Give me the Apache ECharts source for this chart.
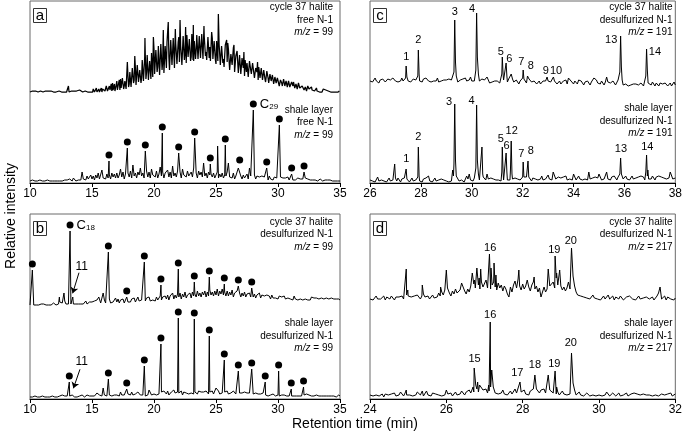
<!DOCTYPE html>
<html><head><meta charset="utf-8">
<script src="https://cdn.jsdelivr.net/npm/echarts@6/dist/echarts.min.js"></script>
<style>html,body{margin:0;padding:0;background:#fff}#c{width:685px;height:433px}</style>
</head><body><div id="c"></div>
<script>
// ---------- DATA (intensities in arbitrary units above each trace's baseline) ----------
// Panel a top: cycle 37 halite, free N-1, m/z 99, t = 10 + 0.05*i
const noiseA1 = [
0,1,0,0,1,0,1,0,0,1,0,0,1,0,1,0,0,1,0,0,
1,0,0,1,0,1,3,0,0,1,0,1,0,0,1,0,0,1,0,1,
0,1,0,1,1,0,0,1,0,0,1,0,2,0,1,0,0,1,1,0,
0,0,1,0,0,1,0,1,1,0,0,1,1,0,0,1,0,1,0,0,
2,0,0,1,1,0,1,2,0,1,2,0,1,0,0,1,1,0,2,1,
1,0,3,1,0,2,1,4,0,2,1,3,0,1,2,4,0,3,1,2,
5,1,2,6,7,1,3,2,6,2,3,8,1,9,2,4,8,1,4,7,
11,2,3,9,12,2,13,4,2,14,15,3,6,11,12,3,4,14,16,5,
8,20,21,5,6,24,25,9,12,23,24,7,8,27,26,10,11,22,20,9,
14,32,33,11,10,35,36,13,20,37,38,12,14,31,30,13,39,40,15,17,
43,18,16,42,41,20,25,46,47,17,16,48,49,22,30,45,19,21,46,44,
24,50,51,26,35,22,21,52,53,27,40,54,55,24,23,49,48,28,27,50,
55,30,29,46,45,27,28,56,57,32,38,30,29,57,58,35,33,53,52,31,
35,58,59,32,31,51,50,33,42,57,58,33,32,56,55,34,36,58,59,33,
33,56,57,36,40,32,31,55,56,34,45,31,30,53,54,33,35,51,50,32,
28,51,52,31,38,48,49,27,26,46,47,29,33,25,24,47,48,28,30,49,
43,44,22,23,38,37,27,25,44,43,20,21,36,35,41,40,19,20,37,36,
18,19,34,33,24,17,16,32,33,20,29,28,15,16,31,30,22,18,17,29,
28,27,14,15,24,23,20,13,12,25,26,14,15,24,23,12,11,22,24,13,
10,11,21,20,14,9,8,18,19,11,12,17,18,8,7,15,16,9,10,14,
15,14,6,7,12,11,9,6,5,13,12,6,7,11,10,5,4,11,12,5,
3,4,10,9,6,10,11,4,3,8,7,3,2,9,8,4,5,3,3,6,
7,6,2,3,5,4,1,2,6,5,3,2,1,4,5,2,2,4,3,1,
1,3,4,1,0,3,2,0,1,2,1,0,0,3,2,1,1,2,0,1,
0,1,2,0,1,0,2,1,1,0,0,1,1,0,1,2,1,0,0,1,
1];
const peaksA1 = [[13.1,6],[17.85,30],[18.45,36],[19.27,54],[19.95,55],[20.75,62],[21.15,70],[21.72,63],[22.1,72],[22.55,65],[23.17,67],[24.03,66],[24.65,60],[25.19,78],[25.86,52],[26.45,47],[27.25,40],[28.35,30]];
// Panel a bottom: shale layer, free N-1, m/z 99, t = 10 + 0.1*i
const noiseA2 = [
0,0,1,0,0,1,0,0,1,0, 0,1,0,0,1,0,0,1,0,1, 0,1,0,2,0,1,0,1,1,0, 1,0,2,1,0,3,1,0,2,1, 3,1,9,2,4,1,5,2,3,6,
2,5,1,6,3,8,2,4,11,3, 5,2,7,3,6,2,8,4,7,3, 8,3,6,12,4,9,2,7,5,8, 4,10,3,16,5,8,3,9,6,13, 5,8,3,7,10,4,9,3,12,6,
8,4,10,3,7,14,5,9,3,8, 6,11,4,9,3,15,5,8,4,10, 5,9,3,12,6,8,4,10,5,7, 9,4,13,5,8,3,10,6,9,4, 18,5,8,3,9,6,7,4,8,3,
6,9,3,7,4,8,3,6,5,9, 18,4,6,3,8,2,5,6,13,3, 5,2,6,3,4,7,2,13,5,3, 4,6,2,5,3,4,2,5,3,4, 2,4,1,5,2,3,1,4,2,3,
3,1,4,2,3,1,3,2,4,1, 2,3,1,3,1,2,3,1,2,1, 2,1,3,1,2,1,1,2,1,2, 1,2,0,1,2,1,0,1,1,0, 1,0,1,2,0,1,0,1,0,1, 0];
const peaksA2 = [[16.37,20],[17.85,33],[19.3,30],[20.67,48],[21.99,28],[23.28,43],[24.54,17],[25.13,35],[25.75,36],[26.91,15],[28.01,71],[29.09,13],[30.11,56],[31.1,7],[32.1,9]];
const dotsA2 = [16.37,17.85,19.3,20.67,21.99,23.28,24.54,25.75,26.91,28.01,29.09,30.11,31.1,32.1];

// Panel b: desulfurized N-1, m/z 99, t = 10 + 0.1*i
const noiseB1 = [
0,1,0,0,1,0,1,0,0,1, 0,1,1,0,2,0,1,0,1,2, 1,0,2,1,3,1,2,1,4,1, 2,1,3,1,2,1,3,1,2,1, 2,1,3,1,2,4,1,2,3,1,
3,1,4,2,5,3,6,2,4,3, 5,2,4,3,6,2,4,3,5,7, 3,6,2,5,3,6,2,4,5,3, 5,3,6,4,7,3,5,8,4,6, 5,3,6,4,7,5,8,4,6,5,
7,4,8,5,6,9,5,8,6,9, 6,10,5,9,7,12,6,10,7,11, 8,12,6,11,8,13,7,10,9,12, 7,13,9,11,8,14,9,12,8,13, 10,14,8,13,9,15,10,13,9,14,
10,15,9,14,11,16,10,13,9,14, 9,13,10,15,8,12,10,14,9,12, 8,12,9,13,8,11,9,12,8,11, 8,11,7,10,8,12,7,10,8,9, 7,10,8,9,6,10,7,9,7,8,
6,9,7,8,6,9,6,8,7,8, 6,8,5,9,6,8,5,7,6,8, 5,7,6,8,5,7,5,8,6,7, 5,7,5,6,4,7,5,6,4,7, 5,6,4,7,5,6,4,6,5,6, 5];
const peaksB1 = [[10.19,35],[12.37,8],[12.74,12],[13.23,74],[13.45,8],[15.55,8],[15.9,12],[16.32,53],[17.8,8],[19.22,43],[20.56,20],[21.96,36],[23.25,23],[24.46,28],[25.1,16],[25.67,21],[26.15,15],[26.8,19],[27.88,17],[29.15,11]];
const dotsB1 = [10.19,13.23,16.32,17.8,19.22,20.56,21.96,23.25,24.46,25.67,26.8,27.88];
const noiseB2 = [
0,1,0,0,1,0,0,1,0,0, 1,0,0,1,0,1,0,0,1,0, 0,1,0,1,1,0,2,0,1,3, 1,0,1,0,2,1,0,1,0,1, 1,0,2,1,0,1,2,0,1,2,
1,3,1,2,4,6,2,3,1,9, 2,4,1,3,2,4,1,3,2,4, 2,3,1,5,2,3,2,4,2,3, 3,2,5,2,4,3,2,5,3,2, 3,2,4,1,3,2,7,3,2,4,
3,5,2,4,3,2,5,3,6,4, 3,6,2,4,5,3,7,4,3,5, 4,3,6,2,5,3,4,6,3,5, 4,6,3,5,4,3,6,4,5,3, 5,3,6,4,3,5,4,6,3,5,
9,4,6,3,5,4,3,5,4,6, 3,5,4,3,6,4,3,5,3,4, 3,4,2,5,3,4,2,4,3,2, 3,2,4,2,3,1,3,2,4,2, 2,3,1,3,2,1,3,2,1,3,
2,1,3,2,1,2,3,1,2,1, 2,1,2,1,3,1,2,1,2,1, 1,2,1,3,1,2,1,1,2,1, 1,2,0,1,2,1,0,1,2,1, 0,1,2,1,0,1,1,0,1,2, 1];
const peaksB2 = [[13.17,15],[15.9,9],[16.32,18],[17.8,8],[19.22,31],[19.7,7],[20.56,53],[21.96,79],[23.25,78],[24.46,61],[25.12,8],[25.67,37],[26.8,26],[27.88,28],[28.97,15],[30.05,26],[31.07,8],[32.06,10]];
const dotsB2 = [13.17,16.32,17.8,19.22,20.56,21.96,23.25,24.46,25.67,26.8,27.88,28.97,30.05,31.07,32.06];
const labelsB1 = [['11',14.17,38.3]];
const labelsB2 = [['11',14.17,35.3]];
const arrowsB1 = [[13.95,32.3,13.44,11.7]];
const arrowsB2 = [[14.03,27.7,13.5,8.7]];

// Panel c: desulfurized N-1, m/z 191, t = 26 + 0.05*i
const noiseC1 = [
1,3,0,2,4,1,3,-1,2,1,3,2,0,1,3,1,2,0,4,2,
1,3,0,2,1,4,1,2,0,3,1,2,0,2,3,1,2,1,4,1,
2,0,3,1,4,2,1,3,0,2,1,3,1,4,0,2,1,3,2,0,
2,1,3,1,2,0,4,2,1,0,1,2,1,3,2,4,1,3,2,5,
1,0,1,-1,3,2,1,0,3,1,2,1,5,2,-1,1,0,2,1,-1,
1,2,-1,1,3,2,1,2,0,3,5,1,3,0,-1,2,0,-2,1,2,
0,2,3,-1,1,3,1,0,-2,1,0,-2,0,1,-2,0,1,-1,1,2,
1,2,0,-2,2,1,-1,-2,0,1,-2,0,1,-1,2,-2,0,3,1,-1,
-2,1,0,-2,2,3,1,-1,-3,0,-2,1,0,-3,0,-2,1,3,2,-1,
0,-2,1,-1,-3,0,4,0,-2,-1,-3,1,-1,-3,-1,2,1,-2,-1,-3,
-4,-2,-1,-4,-2,-3,-1,-2,-4,-2,-1,-3,-4,-1,-2,-4,-3,0,-2,-1,
-1,-3,0,-2,-4,-1,-2,-4,-1,-3,-2,-4,-1,-2,-4,-3,-1,-4,-3,0,
-3];
const peaksC1 = [[26.97,5],[27.40,4],[27.42,16],[27.45,5],[27.88,6],[27.9,32],[27.93,8],[29.3,10],[29.33,62],[29.36,20],[29.39,6],[30.16,12],[30.19,69],[30.22,25],[30.26,8],[30.62,7],[31.18,8],[31.2,25],[31.23,8],[31.35,19],[31.38,6],[31.55,8],[32.0,4],[32.02,12],[32.05,3],[32.19,6],[32.96,5],[33.21,5],[33.8,4],[34.25,4],[34.8,4],[35.3,5],[35.82,10],[35.85,46],[35.88,15],[35.91,2],[36.84,6],[36.87,33],[36.9,12],[36.93,-1]];
const labelsC1 = [['1',27.43,25.3],['2',27.9,42],['3',29.33,70.3],['4',30.01,72.7],['5',31.14,30.3],['6',31.48,22.7],['7',31.95,20.3],['8',32.32,16],['9',32.91,11.3],['10',33.31,11.3],['13',35.48,42],['14',37.2,30.3]];
const noiseC2 = [
2,4,1,3,0,2,5,1,3,2,4,1,3,0,2,4,1,3,2,1,
3,1,4,2,0,3,1,4,2,1,3,0,2,4,1,3,2,0,3,1,
2,0,3,1,4,2,6,1,3,0,2,4,1,3,2,0,3,1,2,4,
1,3,0,2,1,3,2,0,2,4,1,3,2,1,0,2,6,3,1,2,
3,1,4,2,1,3,2,4,1,5,3,2,6,3,1,4,2,3,1,2,
3,2,4,1,3,2,1,3,2,4,2,5,3,1,4,2,3,5,2,3,
4,2,3,5,2,4,3,1,4,2,3,5,2,4,3,6,2,4,3,2,
4,3,5,2,4,8,3,2,5,3,4,2,5,3,6,2,4,3,5,2,
3,5,2,4,6,3,5,2,4,3,5,2,6,3,5,4,2,5,7,4,
3,5,2,4,3,5,9,3,4,2,5,3,6,4,2,5,3,4,6,3,
4,6,3,5,2,4,6,3,5,4,2,5,3,6,4,5,2,4,6,3,
5,3,6,4,2,5,3,6,4,5,3,4,6,3,5,4,6,9,3,5,
4];
const peaksC2 = [[26.95,3],[26.97,18],[27.0,4],[27.40,3],[27.42,13],[27.45,3],[27.88,5],[27.9,35],[27.93,6],[29.25,12],[29.28,6],[29.3,18],[29.33,78],[29.36,22],[29.39,6],[29.9,8],[30.16,14],[30.19,77],[30.22,22],[30.26,8],[30.4,35],[30.43,8],[30.6,8],[31.18,10],[31.2,35],[31.23,10],[31.35,29],[31.38,10],[31.52,12],[31.55,41],[31.58,8],[32.0,5],[32.02,20],[32.05,5],[32.18,6],[32.21,21],[32.24,5],[33.0,7],[33.2,10],[34.0,8],[34.6,10],[35.0,8],[35.3,10],[35.82,8],[35.85,24],[35.88,8],[36.84,10],[36.87,27],[36.92,12],[37.8,10]];
const labelsC2 = [['1',27.43,22.7],['2',27.9,45.3],['3',29.11,80.3],['4',29.99,81.3],['5',31.14,42.7],['6',31.37,36],['12',31.57,51],['7',31.95,28],['8',32.32,31.3],['13',35.86,32.7],['14',36.9,35.3]];

// Panel d: desulfurized N-1, m/z 217, t = 24 + 0.04*i
const noiseD1 = [
-1,1,-2,0,2,-1,1,-1,0,2,-2,1,0,-1,2,0,-2,1,-1,1,0,2,-1,1,3,
2,0,1,-1,2,0,3,1,-1,2,4,1,0,2,-1,1,3,0,2,1,5,2,6,3,8,
6,3,5,2,7,4,9,5,3,8,6,11,7,4,9,6,12,8,14,10,7,13,9,16,11,
12,18,10,14,9,13,16,11,8,15,10,13,7,12,9,4,1,11,6,13,17,10,19,12,8,
14,9,12,18,11,7,13,16,9,12,6,10,1,3,11,6,9,14,7,12,16,10,20,13,9,
12,8,11,7,10,16,9,6,8,4,6,3,5,2,4,1,3,0,2,-1,1,3,0,2,-1,
1,-2,0,2,-1,1,3,-1,0,2,-2,1,0,-1,2,1,-2,0,1,-1,2,0,-1,1,-2,
0,2,-1,1,0,-2,1,2,-1,0,1,-2,0,2,5,1,-1,0,2,-2,1,0,-1,1,-2,
0];
const peaksD1 = [[24.95,29],[24.99,8],[25.37,13],[25.85,11],[26.0,28],[26.03,10],[26.4,15],[26.68,25],[26.74,18],[26.8,30],[26.86,20],[26.9,29],[27.13,44],[27.17,30],[27.25,35],[27.3,23],[27.9,28],[28.3,21],[28.67,29],[28.71,12],[28.85,42],[28.89,25],[28.97,28],[29.28,50],[29.32,22],[29.36,12],[31.6,11]];
const labelsD1 = [['16',27.15,50],['19',28.83,48.3],['20',29.26,56.7]];
const noiseD2 = [
0,2,-1,1,0,2,-1,0,1,-2,1,2,0,-1,1,0,2,-1,1,0,3,1,-1,2,0,
1,0,2,-1,1,0,3,1,0,2,-1,1,4,0,1,-1,2,0,1,3,0,2,-1,1,0,
4,1,0,2,-1,1,3,0,2,1,4,2,0,3,1,5,2,0,3,1,6,3,4,8,5,
3,6,2,4,8,3,5,2,4,1,3,2,5,1,3,0,2,4,1,3,6,2,4,1,3,
2,5,1,3,0,4,2,6,3,1,4,2,5,3,6,2,4,1,3,5,2,4,1,3,0,
2,4,1,3,0,2,1,3,-1,2,0,1,3,0,2,-1,1,2,0,-1,1,0,2,-1,1,
0,2,-1,1,0,3,1,-1,0,2,1,-1,0,2,-1,1,0,1,2,-1,0,1,-1,2,0,
1,-1,0,2,1,-1,0,2,0,1,-1,1,0,2,-1,0,1,3,0,-1,1,0,2,-1,0,
1];
const peaksD2 = [[24.95,5],[25.37,4],[26.0,5],[26.7,8],[26.73,27],[26.77,10],[26.82,13],[26.87,10],[27.11,10],[27.15,73],[27.19,25],[27.23,8],[27.93,13],[28.32,20],[28.36,6],[28.67,20],[28.71,5],[28.85,24],[28.89,8],[29.28,42],[29.32,12],[29.36,5]];
const labelsD2 = [['15',26.74,35.7],['16',27.15,80],['17',27.86,21.7],['18',28.32,30],['19',28.83,31],['20',29.26,51.7]];

const sampleNames = ['cycle 37 halite', 'shale layer'];
const panelLetters = ['a', 'c', 'b', 'd'];
const fractions = ['free N-1', 'desulfurized N-1', 'desulfurized N-1', 'desulfurized N-1'];
const mzValues = [99, 191, 99, 217];
const xRanges = [[10,35,5],[26,38,2],[10,35,5],[24,32,2]];

// ---------- LAYOUT ----------
const FONT = "'Liberation Sans', Arial, Helvetica, sans-serif";
const panels = [
  {left:30, top:1, width:310, height:182, base:[92,181], textTop:[1.25,103.75], textRight:333},
  {left:370, top:1, width:309, height:182, base:[82,182], textTop:[1.25,102], textRight:672.5},
  {left:30, top:214, width:310, height:185, base:[305,397], textTop:[215.5,317], textRight:333},
  {left:370, top:214, width:309, height:185, base:[298,395], textTop:[215.5,317], textRight:672.5}
];
const traces = [
  {p:0,k:0,step:0.05,lw:1.25,noise:noiseA1,peaks:peaksA1},
  {p:0,k:1,step:0.1,lw:1,noise:noiseA2,peaks:peaksA2,dots:dotsA2,sub:[28.01,'29']},
  {p:1,k:0,step:0.05,lw:1,noise:noiseC1,peaks:peaksC1,labels:labelsC1},
  {p:1,k:1,step:0.05,lw:1,noise:noiseC2,peaks:peaksC2,labels:labelsC2},
  {p:2,k:0,step:0.1,lw:1,noise:noiseB1,peaks:peaksB1,dots:dotsB1,sub:[13.23,'18'],labels:labelsB1,arrows:arrowsB1},
  {p:2,k:1,step:0.1,lw:1,noise:noiseB2,peaks:peaksB2,dots:dotsB2,labels:labelsB2,arrows:arrowsB2},
  {p:3,k:0,step:0.04,lw:1,noise:noiseD1,peaks:peaksD1,labels:labelsD1},
  {p:3,k:1,step:0.04,lw:1,noise:noiseD2,peaks:peaksD2,labels:labelsD2}
];

function build(tr){
  const step = tr.step, x0 = xRanges[tr.p][0], thr = step*0.25, peaks = tr.peaks;
  const pts = [];
  tr.noise.forEach((v,i)=>{
    const t = +(x0 + i*step).toFixed(4);
    if (!peaks.some(q=>Math.abs(q[0]-t) < thr)) pts.push([t, v]);
  });
  peaks.forEach(q=>pts.push([q[0], q[1]]));
  pts.sort((a,b)=>a[0]-b[0]);
  return pts;
}

const grid = panels.map(P=>({left:P.left, top:P.top, width:P.width, height:P.height, show:true,
  borderColor:'#6a6a6a', borderWidth:1, backgroundColor:'transparent', containLabel:false}));
const xAxis = panels.map((P,i)=>({gridIndex:i, type:'value', min:xRanges[i][0], max:xRanges[i][1], interval:xRanges[i][2],
  axisLine:{show:true, onZero:false, lineStyle:{color:'#000', width:1}},
  axisTick:{show:true, length:4, inside:false, lineStyle:{color:'#000'}},
  axisLabel:{fontSize:12, color:'#000', margin:5, fontFamily:FONT, showMinLabel:true, showMaxLabel:true},
  splitLine:{show:false}}));
const yAxis = [];
traces.forEach(tr=>{
  const P = panels[tr.p];
  const mn = -(P.top + P.height - P.base[tr.k]);
  yAxis.push({gridIndex:tr.p, type:'value', show:false, min:mn, max:mn + P.height, splitLine:{show:false}});
});

const series = [];
traces.forEach((tr,idx)=>{
  series.push({type:'line', xAxisIndex:tr.p, yAxisIndex:idx, data:build(tr),
    symbol:'none', showSymbol:false, silent:true, animation:false, clip:false,
    lineStyle:{color:'#000', width:tr.lw}, z:2});
  if (tr.dots){
    series.push({type:'scatter', xAxisIndex:tr.p, yAxisIndex:idx, silent:true, animation:false,
      symbol:'circle', symbolSize:7, symbolOffset:[0,-6], itemStyle:{color:'#000', opacity:1}, z:3,
      data: tr.dots.map(t=>{
        const pk = tr.peaks.find(q=>q[0]===t);
        const item = {value:[t, pk[1]]};
        if (tr.sub && tr.sub[0]===t){
          item.label = {show:true, position:'right', distance:3, opacity:1, formatter:'{c|C}{s|'+tr.sub[1]+'}',
            rich:{c:{fontSize:13, fontFamily:FONT, color:'#000', lineHeight:14},
                  s:{fontSize:8, fontFamily:FONT, color:'#000', lineHeight:14, verticalAlign:'bottom', padding:[5,0,0,0]}}};
        }
        return item;
      })});
  }
  if (tr.labels){
    series.push({type:'scatter', xAxisIndex:tr.p, yAxisIndex:idx, silent:true, animation:false,
      symbolSize:1, itemStyle:{color:'rgba(0,0,0,0)', opacity:1}, z:4,
      label:{show:true, position:'inside', formatter:'{b}', fontSize:tr.p===2?12:11, color:'#000', opacity:1, fontFamily:FONT},
      data: tr.labels.map(l=>({name:l[0], value:[l[1], l[2]]}))});
  }
  if (tr.arrows){
    series.push({type:'lines', coordinateSystem:'cartesian2d', xAxisIndex:tr.p, yAxisIndex:idx, silent:true, animation:false,
      symbol:['none','arrow'], symbolSize:6, lineStyle:{color:'#000', width:1, opacity:1}, z:4,
      data: tr.arrows.map(a=>({coords:[[a[0],a[1]],[a[2],a[3]]]}))});
  }
});

const graphic = [];
panels.forEach((P,i)=>{
  [0,1].forEach(k=>{
    graphic.push({type:'text', z:10, style:{x:P.textRight, y:P.textTop[k],
      text: sampleNames[k] + '\n' + fractions[i] + '\n{i|m/z} = ' + mzValues[i],
      fontSize:10, fontFamily:FONT, fill:'#000', align:'right', verticalAlign:'top', lineHeight:12.5,
      rich:{i:{fontStyle:'italic', fontSize:10, fontFamily:FONT, fill:'#000', lineHeight:12.5}}}});
  });
  graphic.push({type:'rect', z:10, shape:{x:P.left+3.5, y:P.top+7.5, width:13, height:14},
    style:{fill:'#fff', stroke:'#333', lineWidth:1}});
  graphic.push({type:'text', z:11, style:{x:P.left+10, y:P.top+14.5, text:panelLetters[i], fontSize:15,
    fontFamily:FONT, fill:'#000', align:'center', verticalAlign:'middle'}});
});
graphic.push({type:'text', z:10, x:11, y:216, rotation:Math.PI/2, style:{x:0, y:0, text:'Relative intensity',
  fontSize:14, fontFamily:FONT, fill:'#000', align:'center', verticalAlign:'middle'}});
graphic.push({type:'text', z:10, style:{x:355, y:424, text:'Retention time (min)',
  fontSize:14, fontFamily:FONT, fill:'#000', align:'center', verticalAlign:'middle'}});

const chart = echarts.init(document.getElementById('c'), null, {renderer:'canvas'});
chart.setOption({animation:false, backgroundColor:'#fff', grid, xAxis, yAxis, series, graphic});
</script></body></html>
